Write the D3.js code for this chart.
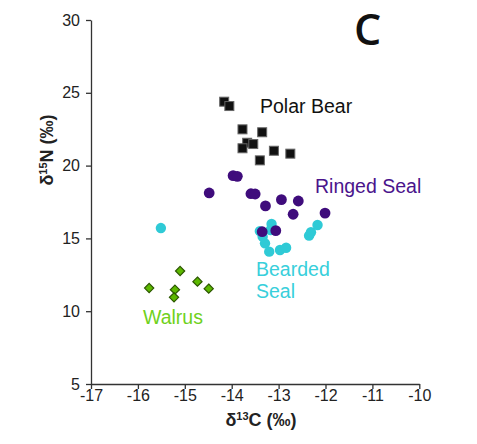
<!DOCTYPE html>
<html><head><meta charset="utf-8">
<script src="https://cdn.jsdelivr.net/npm/d3@7"></script>
<style>body{margin:0;background:#fff}</style>
</head><body>
<svg id="c" width="477" height="444"></svg>
<script>
// Data (δ13C, δ15N)
const polarBearC = [-14.16,-14.05,-13.77,-13.35,-13.67,-13.54,-13.77,-13.10,-12.75,-13.40];
const polarBearN = [24.39,24.09,22.49,22.29,21.57,21.48,21.19,21.02,20.82,20.36];
const ringedSealC = [-13.97,-13.88,-14.48,-13.59,-13.50,-13.28,-12.94,-12.58,-12.69,-12.01,-13.35,-13.06];
const ringedSealN = [19.31,19.26,18.12,18.07,18.05,17.23,17.66,17.57,16.66,16.74,15.46,15.53];
const beardedSealC = [-15.51,-13.15,-13.17,-13.34,-13.29,-13.20,-12.97,-12.84,-12.35,-12.31,-12.17,-13.40];
const beardedSealN = [15.71,15.99,15.58,15.12,14.66,14.09,14.20,14.36,15.19,15.42,15.92,15.50];
const walrusC = [-15.10,-15.76,-15.21,-15.23,-14.73,-14.49];
const walrusN = [12.76,11.59,11.48,10.95,12.03,11.55];
const xTicks = [-17,-16,-15,-14,-13,-12,-11,-10];
const yTicks = [5,10,15,20,25,30];

const svg = d3.select("#c");
const x = d3.scaleLinear().domain([-17,-10]).range([91,419.3]);
const y = d3.scaleLinear().domain([5,30]).range([384,20]);
const font = "'Liberation Sans', Arial, sans-serif";

// axes
const xa = svg.append("g").attr("transform","translate(0,384)")
  .call(d3.axisBottom(x).tickValues(xTicks).tickSize(5).tickSizeOuter(0).tickFormat(d=>String(d)));
const ya = svg.append("g").attr("transform","translate(91,0)")
  .call(d3.axisLeft(y).tickValues(yTicks).tickSize(5).tickSizeOuter(0));
[xa,ya].forEach(a=>{
  a.selectAll("path,line").attr("stroke","#333").attr("stroke-width",1.3);
  a.selectAll("text").attr("font-family",font).attr("font-size",16).attr("fill","#222");
});
xa.selectAll("text").attr("dy","0.7em").attr("y",6);
ya.selectAll("text").attr("x",-11);

// axis titles
const xt = svg.append("text").attr("x",261).attr("y",426).attr("text-anchor","middle")
  .attr("font-family",font).attr("font-weight","bold").attr("font-size",18).attr("fill","#222");
xt.append("tspan").text("δ");
xt.append("tspan").attr("font-size",11).attr("dy",-6).text("13");
xt.append("tspan").attr("dy",6).text("C (‰)");

const yt = svg.append("text").attr("transform","translate(53,150) rotate(-90)").attr("text-anchor","middle")
  .attr("font-family",font).attr("font-weight","bold").attr("font-size",18).attr("fill","#222");
yt.append("tspan").text("δ");
yt.append("tspan").attr("font-size",11).attr("dy",-6).text("15");
yt.append("tspan").attr("dy",6).text("N (‰)");

// panel letter
svg.append("text").attr("x",354).attr("y",45).attr("font-family","'Open Sans', sans-serif")
  .attr("font-weight",600).attr("font-size",43).attr("fill","#111").text("C");

// marks
const purple = "#3f0c7c", cyan = "#2fcad6";
svg.append("g").selectAll("circle").data(beardedSealC.map((c,i)=>[c,beardedSealN[i]])).join("circle")
  .attr("cx",d=>x(d[0])).attr("cy",d=>y(d[1])).attr("r",5.2).attr("fill",cyan);
svg.append("g").selectAll("circle").data(ringedSealC.map((c,i)=>[c,ringedSealN[i]])).join("circle")
  .attr("cx",d=>x(d[0])).attr("cy",d=>y(d[1])).attr("r",5.4).attr("fill",purple);
svg.append("g").selectAll("rect").data(polarBearC.map((c,i)=>[c,polarBearN[i]])).join("rect")
  .attr("x",d=>x(d[0])-4.5).attr("y",d=>y(d[1])-4.5).attr("width",9).attr("height",9)
  .attr("fill","#111").attr("stroke","#666").attr("stroke-width",1);
svg.append("g").selectAll("path").data(walrusC.map((c,i)=>[c,walrusN[i]])).join("path")
  .attr("d",d=>{const cx=x(d[0]),cy=y(d[1]),r=4.6;return `M${cx},${cy-r}L${cx+r},${cy}L${cx},${cy+r}L${cx-r},${cy}Z`;})
  .attr("fill","#5cb800").attr("stroke","#2c5600").attr("stroke-width",1.2);

// labels
function lab(t,xx,yy,col){svg.append("text").attr("x",xx).attr("y",yy).attr("font-family",font)
  .attr("font-size",19.5).attr("fill",col).text(t);}
lab("Polar Bear",260,113,"#111");
lab("Ringed Seal",315,193,"#4a148c");
lab("Bearded",256,276,"#38cfdb");
lab("Seal",256,298,"#38cfdb");
lab("Walrus",143,324,"#6fd11c");
</script>
</body></html>
